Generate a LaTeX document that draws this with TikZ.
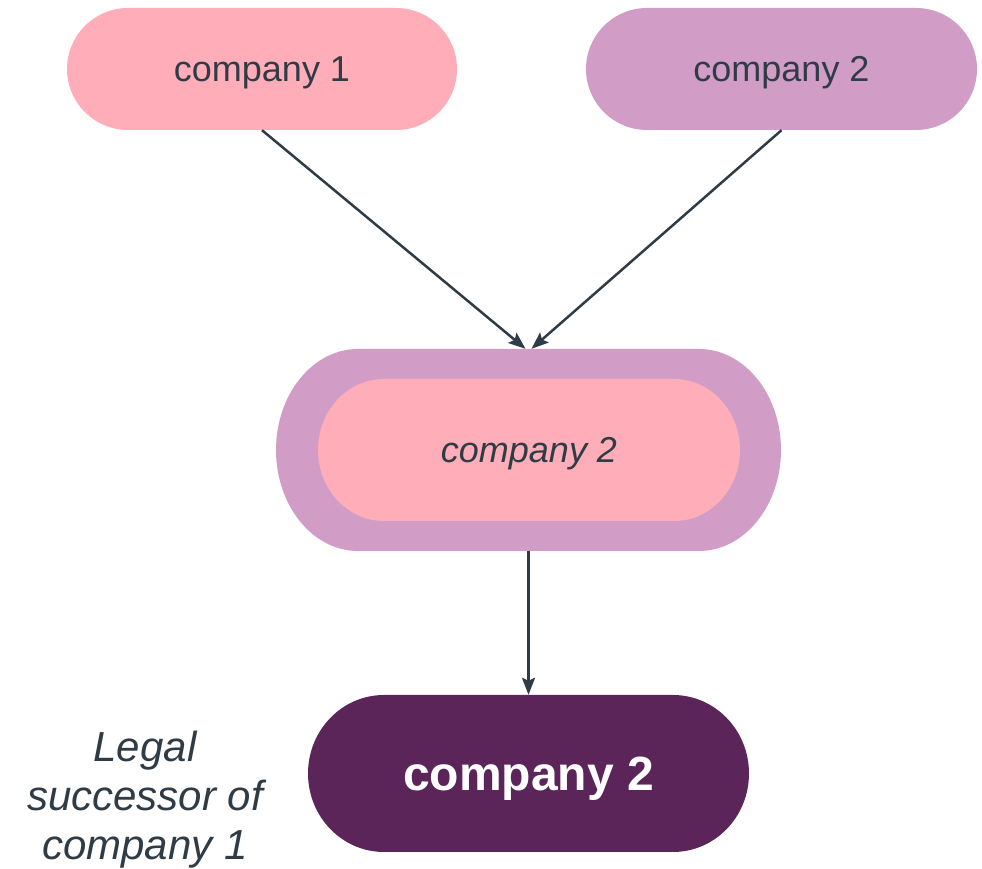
\documentclass[tikz,border=0pt]{standalone}
\usepackage{fontspec}
\setmainfont{Liberation Sans}
\usetikzlibrary{calc,arrows.meta}

\definecolor{pinkfill}{HTML}{FFADB8}
\definecolor{mauvefill}{HTML}{D19DC6}
\definecolor{plumfill}{HTML}{5C2559}
\definecolor{inkgray}{HTML}{2F3C46}

\tikzset{
  % pill with elliptical ends, painted inside the node's rectangle
  pillfill/.style n args={2}{path picture={
    \fill[#1] let \p1=(path picture bounding box.south west),
                  \p2=(path picture bounding box.north east) in
      (\x1+#2,\y1) -- (\x2-#2,\y1)
      arc[start angle=-90,end angle=90,x radius=#2,y radius={(\y2-\y1)/2}]
      -- (\x1+#2,\y2)
      arc[start angle=90,end angle=270,x radius=#2,y radius={(\y2-\y1)/2}]
      -- cycle;}},
  pillbox/.style={rectangle, inner sep=0pt, text=inkgray, text depth=0pt},
  bodytext/.style={font=\fontsize{36}{43}\selectfont},
  flow/.style={draw=inkgray, line width=2.5pt,
    -{Stealth[length=17pt,width=13pt,inset=3pt]}}
}

\begin{document}
\begin{tikzpicture}[x=1pt,y=1pt]
  \useasboundingbox (0,0) rectangle (982,869);

  % the two original companies
  \node[pillbox, bodytext, minimum width=390pt, minimum height=122pt,
        pillfill={pinkfill}{61pt}] (c1) at (262,800) {company 1};
  \node[pillbox, bodytext, minimum width=391pt, minimum height=122pt,
        pillfill={mauvefill}{61pt}] (c2) at (781.5,800) {company 2};

  % merger: company 2 absorbing company 1
  \node[pillbox, minimum width=505pt, minimum height=202pt,
        pillfill={mauvefill}{82pt}] (merge) at (528.5,419) {};
  \node[pillbox, bodytext, font=\fontsize{36}{43}\selectfont\itshape,
        minimum width=422pt, minimum height=142pt,
        pillfill={pinkfill}{66pt}] (mergeinner) at (529,419) {company 2};

  % resulting company
  \node[pillbox, text=white, font=\fontsize{48}{56}\selectfont\bfseries,
        minimum width=441pt, minimum height=157pt,
        pillfill={plumfill}{76pt}] (result) at (528.5,95.5) {company 2};

  \node[text=inkgray, align=center, font=\fontsize{42}{49}\selectfont\itshape]
        (note) at (145,69) {Legal\\successor of\\company 1};

  % connectors
  \draw[flow] (c1.south) -- ([xshift=-3pt]merge.north);
  \draw[flow] (c2.south) -- ([xshift=3pt]merge.north);
  \draw[flow] (merge.south) -- (result.north);
\end{tikzpicture}
\end{document}
